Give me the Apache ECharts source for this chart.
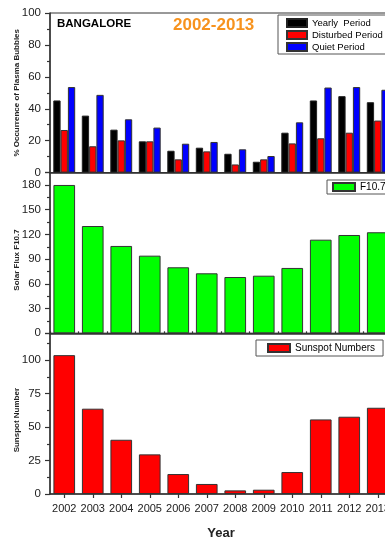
<!DOCTYPE html>
<html>
<head>
<meta charset="utf-8">
<script src="https://cdn.jsdelivr.net/npm/echarts@6/dist/echarts.min.js"></script>
<style>
  html, body { margin: 0; padding: 0; overflow: hidden; background: #fff; }
  #chart { width: 420px; height: 537px; }
</style>
</head>
<body>
<div id="chart"></div>
<script>
// Years on the shared horizontal axis
const years = ['2002', '2003', '2004', '2005', '2006', '2007', '2008', '2009', '2010', '2011', '2012', '2013'];

// % occurrence of plasma bubbles over Bangalore
const yearlyPeriod    = [45.2, 35.7, 26.9, 19.6, 13.7, 15.6, 11.8, 6.8, 25.0, 45.2, 47.9, 44.1];
const disturbedPeriod = [26.7, 16.5, 20.2, 19.6, 8.3, 13.3, 5.1, 8.3, 18.3, 21.5, 25.0, 32.6];
const quietPeriod     = [53.6, 48.7, 33.4, 28.2, 18.1, 19.2, 14.6, 10.4, 31.5, 53.3, 53.6, 51.9];

// Yearly mean solar flux F10.7
const solarFlux = [180.0, 130.2, 106.0, 94.2, 80.1, 72.8, 68.3, 69.9, 79.3, 113.6, 119.3, 122.6];

// Yearly mean sunspot numbers
const sunspotNumbers = [103.7, 63.7, 40.5, 29.6, 14.9, 7.5, 2.7, 3.2, 16.4, 55.7, 57.7, 64.4];

const FONT = '"Liberation Sans", Arial, Helvetica, sans-serif';
const INK = '#222';

const chart = echarts.init(document.getElementById('chart'), null, { renderer: 'canvas' });

// Plot panels stacked vertically, sharing one x range
const plotLeft = 50, plotWidth = 342;
const grids = [
  { left: plotLeft, width: plotWidth, top: 13, height: 159.6 },
  { left: plotLeft, width: plotWidth, top: 172.6, height: 160.7 },
  { left: plotLeft, width: plotWidth, top: 333.3, height: 160.7 }
].map(g => Object.assign({
  show: true, borderColor: '#333', borderWidth: 1, backgroundColor: 'transparent',
  containLabel: false, outerBoundsMode: 'none'
}, g));

function yAxis(gridIndex, max, interval, name, nameShift) {
  return {
    type: 'value', gridIndex, min: 0, max, interval,
    name, nameLocation: 'middle', nameGap: 29, nameMoveOverlap: false,
    nameTextStyle: { fontFamily: FONT, fontWeight: 'bold', fontSize: 8, color: INK,
                     padding: nameShift ? [0, nameShift, 0, 0] : 0 },
    axisLine: { show: true, lineStyle: { color: '#333', width: 1.5 } },
    axisTick: { show: true, inside: false, length: 5, lineStyle: { color: '#333', width: 1.2 } },
    minorTick: { show: true, splitNumber: 2, length: 3, lineStyle: { color: '#333', width: 1.2 } },
    axisLabel: { fontFamily: FONT, fontSize: 11.5, color: INK, margin: 9, showMaxLabel: max % interval === 0 },
    splitLine: { show: false },
    minorSplitLine: { show: false }
  };
}

function xAxis(gridIndex, opts) {
  return Object.assign({
    type: 'category', gridIndex, data: years, boundaryGap: true,
    axisLine: { show: true, lineStyle: { color: '#333', width: 1.5 } },
    axisTick: { show: false },
    axisLabel: { show: false },
    splitLine: { show: false }
  }, opts || {});
}

function barStyle(color) {
  return { color, borderColor: '#333', borderWidth: 1 };
}

const option = {
  animation: false,
  backgroundColor: '#fff',
  textStyle: { fontFamily: FONT },
  grid: grids,
  title: [
    { text: 'BANGALORE', left: 57, top: 18, padding: 0,
      textStyle: { fontFamily: FONT, fontWeight: 'bold', fontSize: 11.5, color: '#000' } },
    { text: '2002-2013', left: 173, top: 17, padding: 0,
      textStyle: { fontFamily: FONT, fontWeight: 'bold', fontSize: 17, color: '#F7931E' } }
  ],
  legend: [
    { data: ['Yearly  Period', 'Disturbed Period', 'Quiet Period'],
      orient: 'vertical', left: 278, top: 15, icon: 'rect',
      itemWidth: 20, itemHeight: 8, itemGap: 2,
      padding: [3, 12, 2, 8], borderColor: '#555', borderWidth: 1,
      textStyle: { fontFamily: FONT, fontSize: 9.5, color: '#000' } },
    { data: ['F10.7'], orient: 'vertical', left: 327, top: 180, icon: 'rect',
      itemWidth: 22, itemHeight: 8, padding: [2, 12, 2, 5],
      borderColor: '#555', borderWidth: 1,
      textStyle: { fontFamily: FONT, fontSize: 10, color: '#000' } },
    { data: ['Sunspot Numbers'], orient: 'vertical', left: 256, top: 340, icon: 'rect',
      itemWidth: 22, itemHeight: 8, padding: [3, 8, 3, 11],
      borderColor: '#555', borderWidth: 1,
      textStyle: { fontFamily: FONT, fontSize: 10, color: '#000' } }
  ],
  xAxis: [
    xAxis(0),
    xAxis(1),
    xAxis(2, {
      name: 'Year', nameLocation: 'middle', nameGap: 33, nameMoveOverlap: false,
      nameTextStyle: { fontFamily: FONT, fontWeight: 'bold', fontSize: 13, color: INK },
      axisTick: { show: true, alignWithLabel: true, length: 4, lineStyle: { color: '#333', width: 1.2 } },
      axisLabel: { show: true, interval: 0, fontFamily: FONT, fontSize: 11, color: INK, margin: 9 }
    }),
    // boundary ticks between the years
    xAxis(2, {
      axisLine: { show: false },
      axisTick: { show: true, alignWithLabel: false, interval: 0, length: 2, lineStyle: { color: '#333', width: 1.2 } }
    })
  ],
  yAxis: [
    yAxis(0, 100, 20, '% Occurrence of Plasma Bubbles', 0),
    yAxis(1, 195, 30, 'Solar Flux F10.7', 14),
    yAxis(2, 120, 25, 'Sunspot Number', 13)
  ],
  series: [
    { name: 'Yearly  Period', type: 'bar', xAxisIndex: 0, yAxisIndex: 0, data: yearlyPeriod,
      barWidth: 7.3, barGap: '0%', itemStyle: { color: '#000', borderColor: '#222', borderWidth: 1 } },
    { name: 'Disturbed Period', type: 'bar', xAxisIndex: 0, yAxisIndex: 0, data: disturbedPeriod,
      barWidth: 7.3, barGap: '0%', itemStyle: barStyle('#ff0000') },
    { name: 'Quiet Period', type: 'bar', xAxisIndex: 0, yAxisIndex: 0, data: quietPeriod,
      barWidth: 7.3, barGap: '0%', itemStyle: barStyle('#0000ff') },
    { name: 'F10.7', type: 'bar', xAxisIndex: 1, yAxisIndex: 1, data: solarFlux,
      barWidth: '76%', itemStyle: barStyle('#00ff00') },
    { name: 'Sunspot Numbers', type: 'bar', xAxisIndex: 2, yAxisIndex: 2, data: sunspotNumbers,
      barWidth: '76%', itemStyle: barStyle('#ff0000') }
  ]
};

chart.setOption(option);
</script>
</body>
</html>
